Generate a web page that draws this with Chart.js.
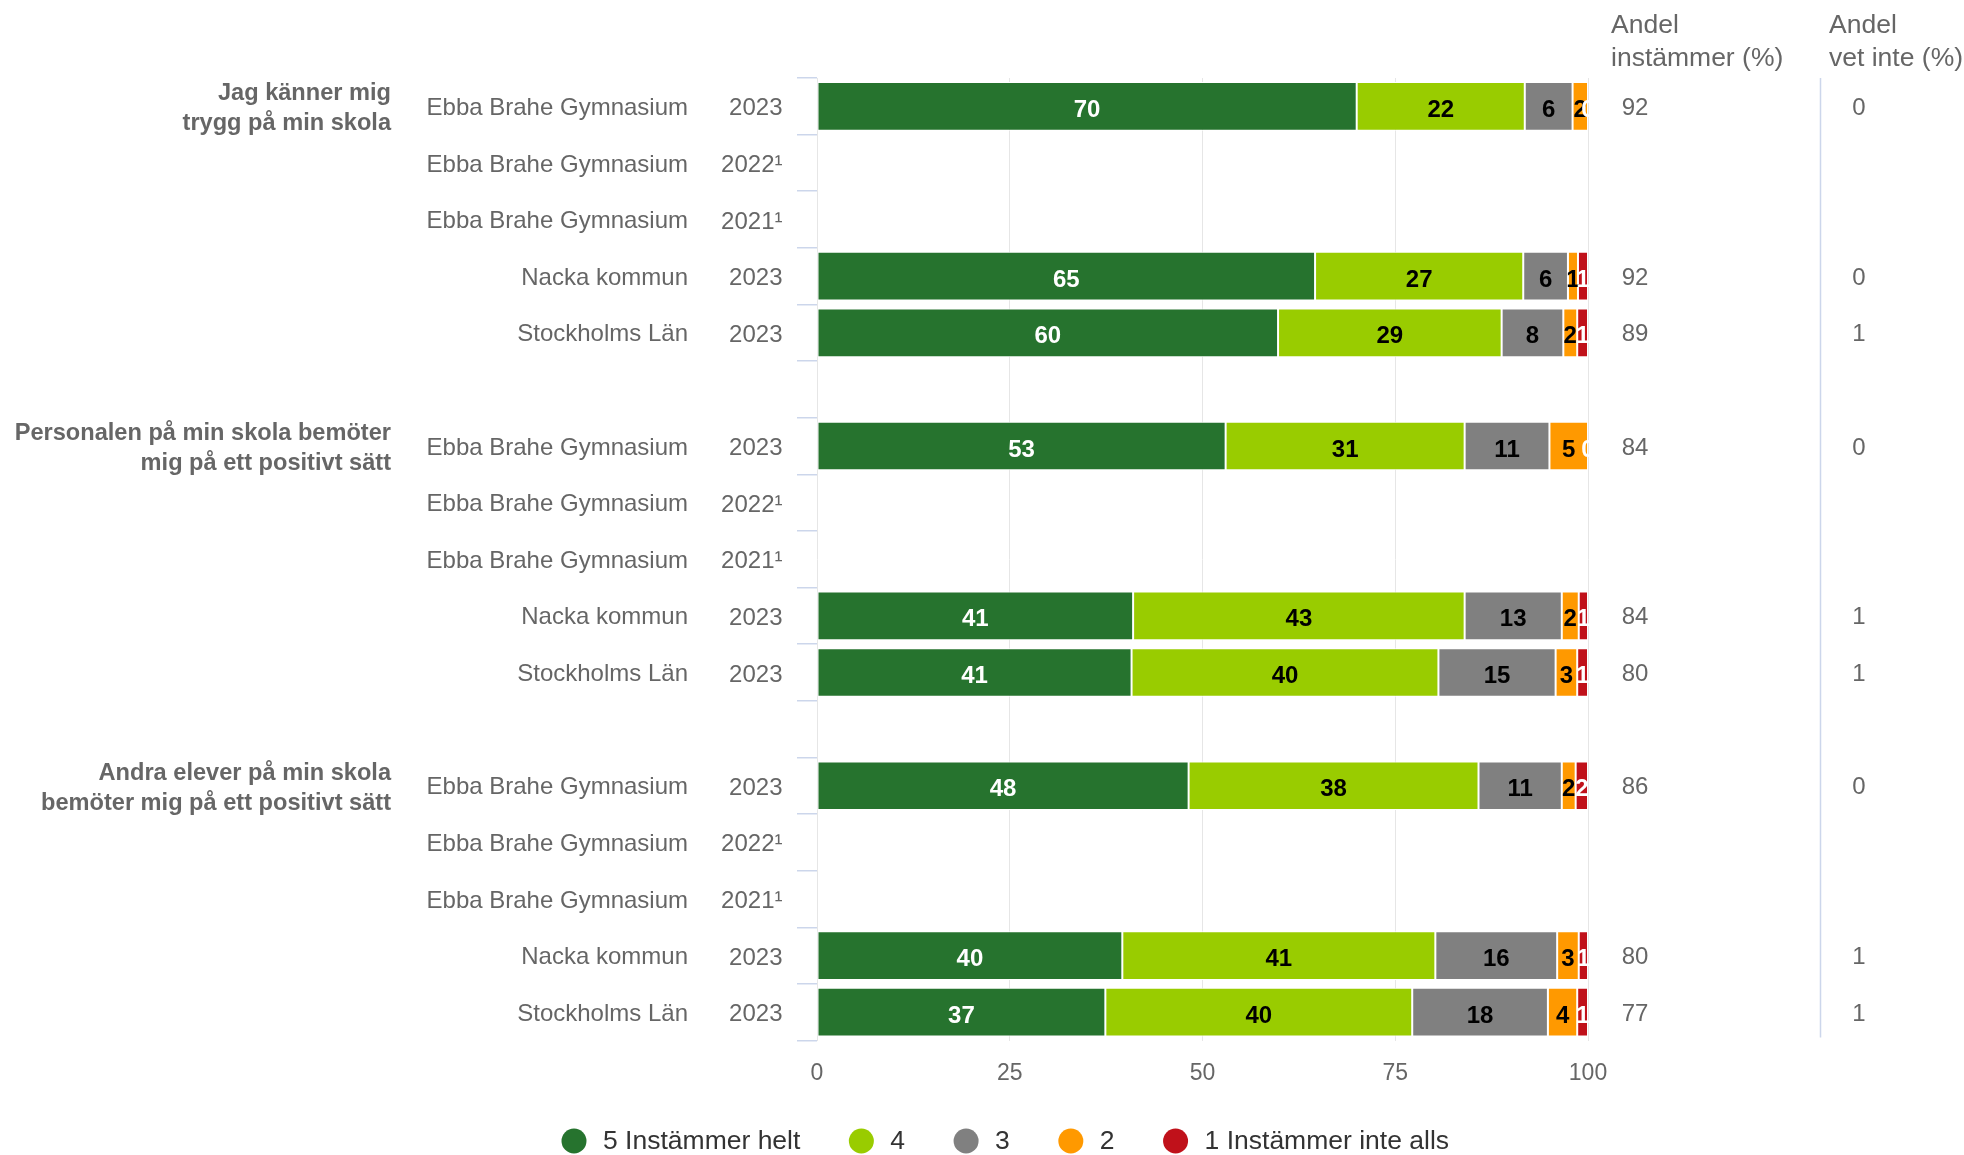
<!DOCTYPE html>
<html><head><meta charset="utf-8">
<script src="https://cdn.jsdelivr.net/npm/chart.js@4.4.1/dist/chart.umd.min.js"></script>
<style>html,body{margin:0;padding:0;background:#fff;} canvas{display:block;}</style>
</head><body>
<canvas id="c" width="1964" height="1155"></canvas>
<script>
// ---- data ----
const questions = ["Jag känner mig\ntrygg på min skola", "Personalen på min skola bemöter\nmig på ett positivt sätt", "Andra elever på min skola\nbemöter mig på ett positivt sätt"];
const questionRows = [0, 6, 12];
const units = ["Ebba Brahe Gymnasium","Ebba Brahe Gymnasium","Ebba Brahe Gymnasium","Nacka kommun","Stockholms Län","",
               "Ebba Brahe Gymnasium","Ebba Brahe Gymnasium","Ebba Brahe Gymnasium","Nacka kommun","Stockholms Län","",
               "Ebba Brahe Gymnasium","Ebba Brahe Gymnasium","Ebba Brahe Gymnasium","Nacka kommun","Stockholms Län"];
const years = ["2023","2022¹","2021¹","2023","2023","",
               "2023","2022¹","2021¹","2023","2023","",
               "2023","2022¹","2021¹","2023","2023"];
const seriesNames = ["5 Instämmer helt","4","3","2","1 Instämmer inte alls"];
const s5 = [70,null,null,64.6,59.8,null, 53,null,null,41,40.8,null, 48.2,null,null,39.6,37.4];
const s4 = [21.8,null,null,27,29,null, 31,null,null,43,39.8,null, 37.6,null,null,40.6,39.8];
const s3 = [6.2,null,null,5.8,8,null, 11,null,null,12.6,15.2,null, 10.8,null,null,15.8,17.6];
const s2 = [2,null,null,1.3,1.8,null, 5,null,null,2.2,2.8,null, 1.8,null,null,2.8,3.8];
const s1 = [0,null,null,1.3,1.4,null, 0,null,null,1.2,1.4,null, 1.6,null,null,1.2,1.4];
const andelInstammer = ["92","","","92","89","", "84","","","84","80","", "86","","","80","77"];
const andelVetInte = ["0","","","0","1","", "0","","","1","1","", "0","","","1","1"];
const colHeaders = [["Andel","instämmer (%)"],["Andel","vet inte (%)"]];
const xTickValues = [0,25,50,75,100];

// ---- styles ----
const FONT = "'Liberation Sans', Arial, sans-serif";
const colors = ["#26732e","#99cc00","#808080","#ff9900","#c0111a"];
const labelColors = ["#ffffff","#000000","#000000","#000000","#ffffff"];
const allSeries = [s5,s4,s3,s2,s1];

const extras = {
  id: 'extras',
  afterDatasetsDraw(chart) {
    const ctx = chart.ctx;
    ctx.save();
    ctx.font = "bold 24px " + FONT;
    ctx.textAlign = 'center';
    ctx.textBaseline = 'middle';
    chart.data.datasets.forEach((ds, di) => {
      const meta = chart.getDatasetMeta(di);
      meta.data.forEach((el, i) => {
        const v = ds.data[i];
        if (v === null || v === undefined) return;
        const x = (el.x + el.base) / 2;
        ctx.fillStyle = labelColors[di];
        ctx.fillText(String(Math.round(v)), x, el.y + 4);
      });
    });
    ctx.restore();
  },
  afterDraw(chart) {
    const ctx = chart.ctx;
    const ys = chart.scales.y;
    const area = chart.chartArea;
    ctx.save();
    ctx.textBaseline = 'middle';
    // unit names
    ctx.font = "24px " + FONT;
    ctx.fillStyle = '#666666';
    ctx.textAlign = 'right';
    units.forEach((u, i) => { if (u) ctx.fillText(u, 688, ys.getPixelForValue(i) + 2); });
    // question labels
    ctx.font = "bold 23.6px " + FONT;
    questions.forEach((q, qi) => {
      const lines = q.split('\n');
      const yc = ys.getPixelForValue(questionRows[qi]) + 2.5;
      lines.forEach((ln, li) => {
        ctx.fillText(ln, 391, yc + (li - (lines.length - 1) / 2) * 30);
      });
    });
    // column headers
    ctx.font = "26.5px " + FONT;
    ctx.textAlign = 'left';
    const hx = [1611, 1829];
    colHeaders.forEach((h, hi) => {
      h.forEach((ln, li) => ctx.fillText(ln, hx[hi], 26 + li * 33));
    });
    // column values
    ctx.font = "24px " + FONT;
    ctx.textAlign = 'center';
    andelInstammer.forEach((v, i) => { if (v) ctx.fillText(v, 1635, ys.getPixelForValue(i) + 2); });
    andelVetInte.forEach((v, i) => { if (v) ctx.fillText(v, 1859, ys.getPixelForValue(i) + 2); });
    // separator
    ctx.strokeStyle = '#ccd6eb';
    ctx.lineWidth = 1.5;
    ctx.beginPath();
    ctx.moveTo(1820.5, area.top);
    ctx.lineTo(1820.5, area.bottom - 3);
    ctx.stroke();
    // legend
    ctx.font = "26.5px " + FONT;
    ctx.textAlign = 'left';
    let x = 561.5;
    const ly = 1141;
    seriesNames.forEach((name, i) => {
      ctx.fillStyle = colors[i];
      ctx.beginPath();
      ctx.arc(x + 12.5, ly, 12.5, 0, Math.PI * 2);
      ctx.fill();
      ctx.fillStyle = '#333333';
      ctx.fillText(name, x + 41.5, ly + 1);
      x += 41.5 + ctx.measureText(name).width + 48.5;
    });
    ctx.restore();
  }
};

new Chart(document.getElementById('c'), {
  type: 'bar',
  data: {
    labels: years,
    datasets: allSeries.map((d, i) => ({
      label: seriesNames[i],
      data: d,
      backgroundColor: colors[i],
      borderColor: '#ffffff',
      borderWidth: 1,
      borderSkipped: false,
      barPercentage: 0.86,
      categoryPercentage: 1
    }))
  },
  options: {
    indexAxis: 'y',
    responsive: false,
    animation: false,
    devicePixelRatio: 1,
    layout: { padding: { top: 78, right: 376, left: 0, bottom: 0 } },
    plugins: { legend: { display: false }, tooltip: { enabled: false } },
    scales: {
      x: {
        stacked: true, min: 0, max: 100,
        afterBuildTicks(scale) { scale.ticks = xTickValues.map(v => ({ value: v })); },
        afterFit(scale) { scale.height = 114.5; },
        ticks: { color: '#666666', font: { family: FONT, size: 23 }, padding: 19 },
        grid: { color: '#e6e6e6', drawTicks: false, lineWidth: 1 },
        border: { display: false }
      },
      y: {
        stacked: true,
        afterFit(scale) { scale.width = 817; },
        ticks: { color: '#666666', font: { family: FONT, size: 24 }, padding: 14.5, autoSkip: false, labelOffset: 2.5 },
        grid: { offset: true, drawOnChartArea: false, drawTicks: true, tickLength: 20, color: '#ccd6eb', lineWidth: 1.5 },
        border: { display: false }
      }
    }
  },
  plugins: [extras]
});
</script>
</body></html>
